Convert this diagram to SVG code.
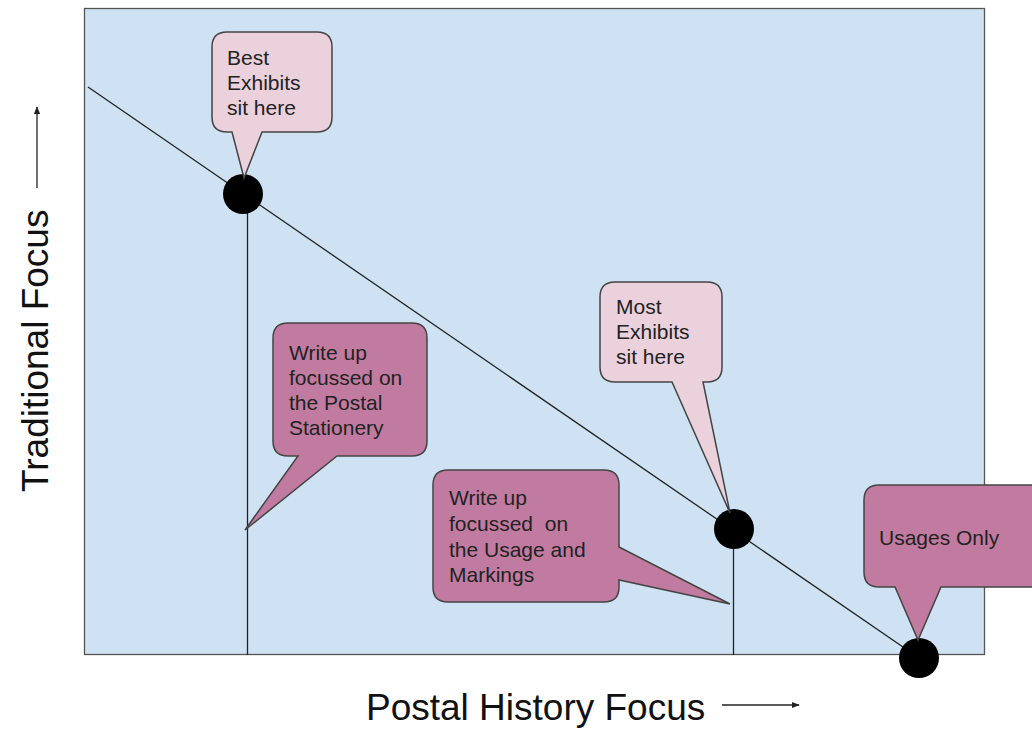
<svg xmlns="http://www.w3.org/2000/svg" width="1032" height="730" viewBox="0 0 1032 730">
<style>
text{font-family:"Liberation Sans",Arial,sans-serif;fill:#222}
.t{font-size:21px}
.ax{font-size:37px;fill:#111}
.light{fill:#ead1dc;stroke:#444;stroke-width:1.5}
.dark{fill:#c27ba0;stroke:#444;stroke-width:1.5}
.ln{stroke:#222;stroke-width:1.3;fill:none}
</style>
<defs>
<marker id="ah" viewBox="0 0 10 10" refX="9" refY="5" markerWidth="6" markerHeight="6" orient="auto"><path d="M0,1 L10,5 L0,9 z" fill="#222"/></marker>
</defs>
<rect width="1032" height="730" fill="#fff"/>
<rect x="84.500" y="8.500" width="900" height="646" fill="#cfe2f3" stroke="#555" stroke-width="1.3"/>
<g id="connectors">
<line class="ln" x1="88" y1="87" x2="919" y2="658"/>
<line class="ln" x1="247.500" y1="195" x2="247.500" y2="655"/>
<line class="ln" x1="733.500" y1="529" x2="733.500" y2="655"/>
</g>
<g id="points">
<circle cx="243" cy="194" r="20" fill="#000"/>
<circle cx="734" cy="529" r="20" fill="#000"/>
<circle cx="919" cy="658" r="20" fill="#000"/>
</g>
<g id="best">
<path class="light" d="M227,32 H317 Q332,32 332,47 V117 Q332,132 317,132 H262 L244,178 L232,132 H227 Q212,132 212,117 V47 Q212,32 227,32 Z"/>
<text class="t" x="227" y="65">Best</text>
<text class="t" x="227" y="90">Exhibits</text>
<text class="t" x="227" y="115">sit here</text>
</g>
<g id="postal-stationery">
<path class="dark" d="M288,323 H412 Q427,323 427,338 V441 Q427,456 412,456 H337 L245,530 L298,456 H288 Q273,456 273,441 V338 Q273,323 288,323 Z"/>
<text class="t" x="289" y="360">Write up</text>
<text class="t" x="289" y="385">focussed on</text>
<text class="t" x="289" y="410">the Postal</text>
<text class="t" x="289" y="435">Stationery</text>
</g>
<g id="most">
<path class="light" d="M615,282 H707 Q722,282 722,297 V367 Q722,382 707,382 H703 L730,513 L672,382 H615 Q600,382 600,367 V297 Q600,282 615,282 Z"/>
<text class="t" x="616" y="314">Most</text>
<text class="t" x="616" y="339">Exhibits</text>
<text class="t" x="616" y="364">sit here</text>
</g>
<g id="usage-markings">
<path class="dark" d="M448,470 H604 Q619,470 619,485 V547 L730,604 L619,580 V587 Q619,602 604,602 H448 Q433,602 433,587 V485 Q433,470 448,470 Z"/>
<text class="t" x="449" y="505" xml:space="preserve">Write up</text>
<text class="t" x="449" y="531" xml:space="preserve">focussed  on</text>
<text class="t" x="449" y="557" xml:space="preserve">the Usage and</text>
<text class="t" x="449" y="582" xml:space="preserve">Markings</text>
</g>
<g id="usages-only">
<path class="dark" d="M879,485 H1040 V587 H941 L918,640 L895,587 H879 Q864,587 864,572 V500 Q864,485 879,485 Z"/>
<text class="t" x="879" y="545">Usages Only</text>
</g>
<g id="axes">
<text class="ax" x="366" y="720">Postal History Focus</text>
<line class="ln" x1="722" y1="705" x2="799" y2="705" marker-end="url(#ah)"/>
<text class="ax" transform="translate(48,492) rotate(-90)">Traditional Focus</text>
<line class="ln" x1="37" y1="188" x2="37" y2="107" marker-end="url(#ah)"/>
</g>
</svg>
